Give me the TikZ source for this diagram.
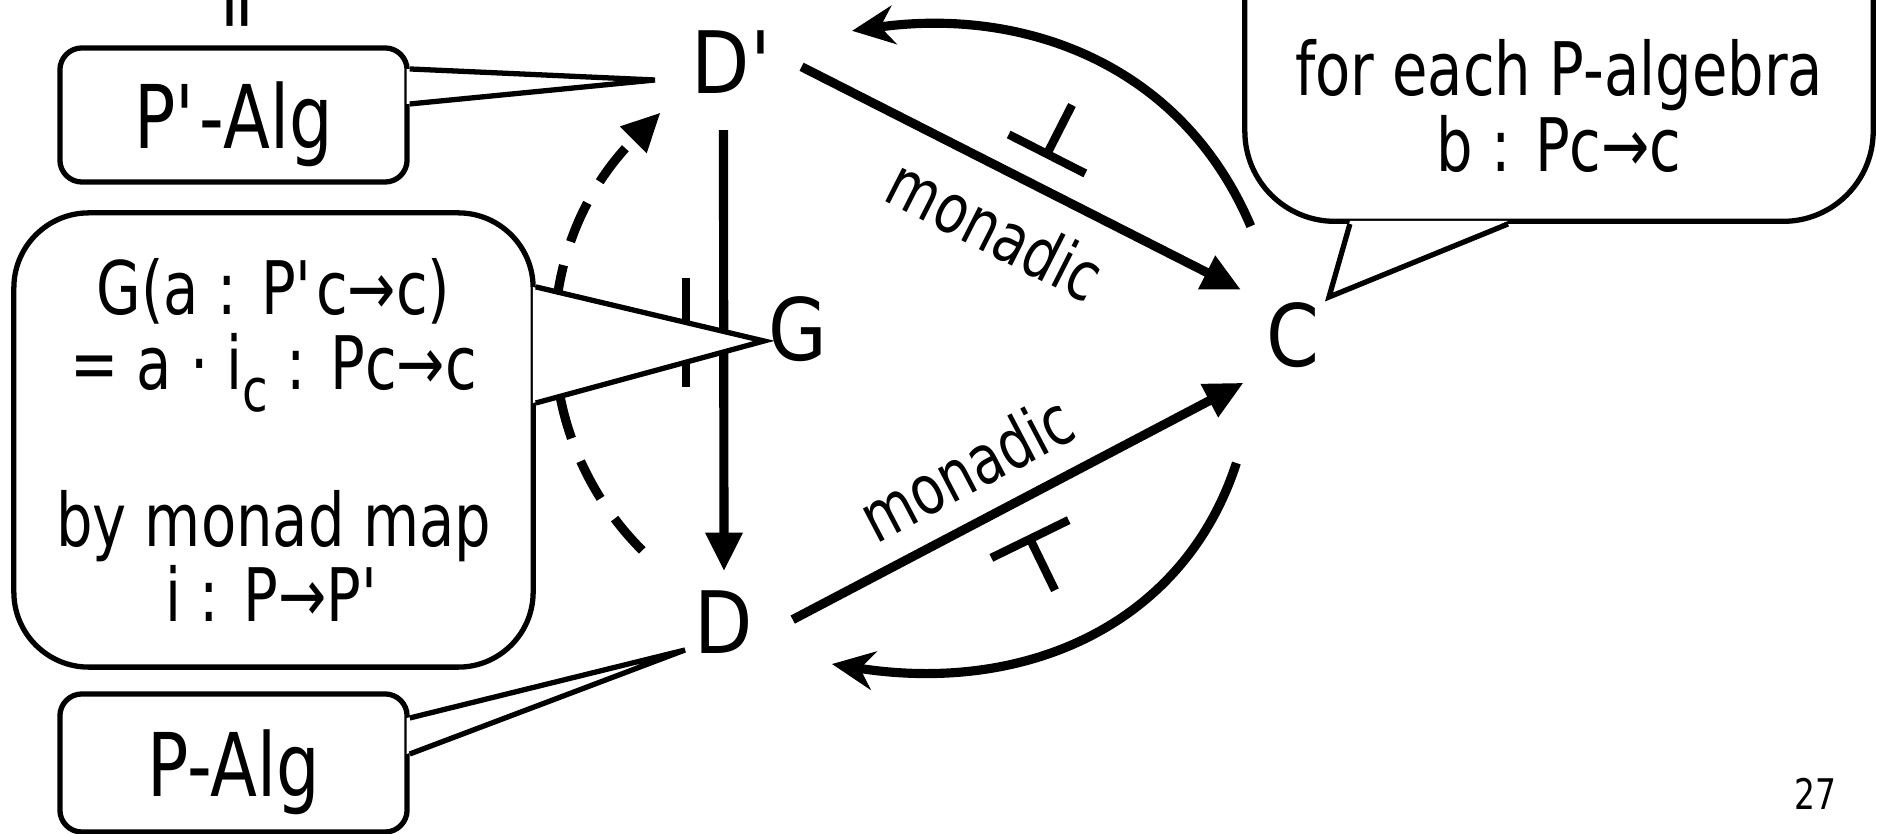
\documentclass[tikz,border=0pt]{standalone}
\usepackage{fontspec}
\setmainfont{DejaVu Sans}[FakeStretch=0.78]
\newfontfamily\objfont{DejaVu Sans}[FakeStretch=0.88]
\usetikzlibrary{arrows.meta,positioning,calc}
\newcommand{\prm}{\textquotesingle}

\begin{document}
\begin{tikzpicture}[
    x=0.01cm, y=0.01cm,
    big/.style={font=\fontsize{21}{21.34}\selectfont},
    obj/.style={font=\objfont\fontsize{24.5}{26}\selectfont, circle, minimum size=1.36cm, inner sep=0pt},
    arr/.style={line width=2.6pt, -{Triangle[length=11pt,width=10pt]}},
    curvarr/.style={line width=2.6pt, -{Stealth[length=12pt,width=11pt]}},
    free/.style={line width=2.6pt, dash pattern=on 12pt off 7pt, -{Triangle[length=11pt,width=10pt]}},
    adj/.style={line width=2.4pt},
    note/.style={big, rectangle, draw, line width=1.5pt, fill=white},
    alg/.style={note, font=\fontsize{25}{26}\selectfont, minimum width=3.47cm, rounded corners=0.22cm, text depth=0pt},
    tail/.style={line width=1.5pt}
]
\useasboundingbox (0,0) rectangle (1877,834);
\clip (0,0) rectangle (1877,834);

% objects
\node[obj] (Dp) at (733,772) {D\prm};
\node[obj] (G) at (798,505) {G};
\node[obj] (C) at (1293,499) {C};
\node[obj] (D) at (724,212) {D};

% adjunctions
\draw[arr] (Dp.-4) -- node[sloped, below=4pt, font=\fontsize{19.5}{20}\selectfont] {monadic} (C.139);
\draw[curvarr, looseness=1.1, shorten <=0.48cm, shorten >=0.55cm] (C.110) to[out=113, in=8] (Dp.20);
\draw[arr] (D.2) -- node[sloped, above=3pt, pos=0.44, font=\fontsize{19.5}{20}\selectfont] {monadic} (C.-136);
\draw[curvarr, looseness=1.15, shorten <=0.72cm, shorten >=0.49cm] (C.-120) to[out=-108, in=-9] (D.-30);
\draw[arr, shorten >=-0.18cm] (Dp.-98) -- (D.90);
\draw[free, looseness=1.1, shorten <=0.4cm, shorten >=0.2cm] (D.141) to[out=135, in=225] (Dp.-148);

% adjoint symbols
\draw[adj, shift={(1047,680)}, rotate=-27] (-43,0) -- (43,0) (0,0) -- (0,55);
\draw[adj, shift={(1030,295)}, rotate=26] (-43,0) -- (43,0) (0,0) -- (0,-57);
\draw[adj] (686,556) -- (686,447) (686,502) -- (640,502);

% callouts
\node[alg, minimum height=1.34cm] (pdalg) at (233.5,719) {P\prm-Alg};
\fill[white] ([shift={(-3,46)}]pdalg.east) -- ($(Dp)+(-78,-18)$) -- ([shift={(-3,11)}]pdalg.east) -- cycle;
\draw[tail] ([yshift=0.46cm]pdalg.east) -- ($(Dp)+(-78,-18)$) -- ([yshift=0.11cm]pdalg.east);

\node[note, minimum width=5.19cm, minimum height=4.54cm, rounded corners=0.75cm, align=center] (gnote) at (273.5,394)
    {G(a : P\prm c→c)\\= a · i\raisebox{-0.3em}{\fontsize{17}{18}\selectfont c} : Pc→c\\[21.34pt]by monad map\\i : P→P\prm};
\fill[white] ([shift={(-3,153)}]gnote.east) -- ($(G)+(-34,-12)$) -- ([shift={(-3,37)}]gnote.east) -- cycle;
\draw[tail] ([yshift=1.53cm]gnote.east) -- ($(G)+(-34,-12)$) -- ([yshift=0.37cm]gnote.east);

\node[alg, minimum height=1.38cm] (palg) at (233.5,71) {P-Alg};
\fill[white] ([shift={(-3,45)}]palg.east) -- ($(D)+(-39,-28)$) -- ([shift={(-3,9)}]palg.east) -- cycle;
\draw[tail] ([yshift=0.45cm]palg.east) -- ($(D)+(-39,-28)$) -- ([yshift=0.09cm]palg.east);

\node[note, minimum width=6.28cm, minimum height=4cm, rounded corners=0.9cm, anchor=south] (bbox) at (1559,610) {};
\fill[white] ([shift={(-209,3)}]bbox.south) -- ($(C)+(36,38)$) -- ([shift={(-51,3)}]bbox.south) -- cycle;
\draw[tail] ([xshift=-2.09cm]bbox.south) -- ($(C)+(36,38)$) -- ([xshift=-0.51cm]bbox.south);
\node[big, align=center] (btext) at (1559,728) {for each P-algebra\\b : Pc→c};

% page
\node[big, rotate=90] (eq) at (244,826) {=};
\node[font=\fontsize{12}{14}\selectfont] (pagenum) at (1815,40) {27};

\end{tikzpicture}
\end{document}
